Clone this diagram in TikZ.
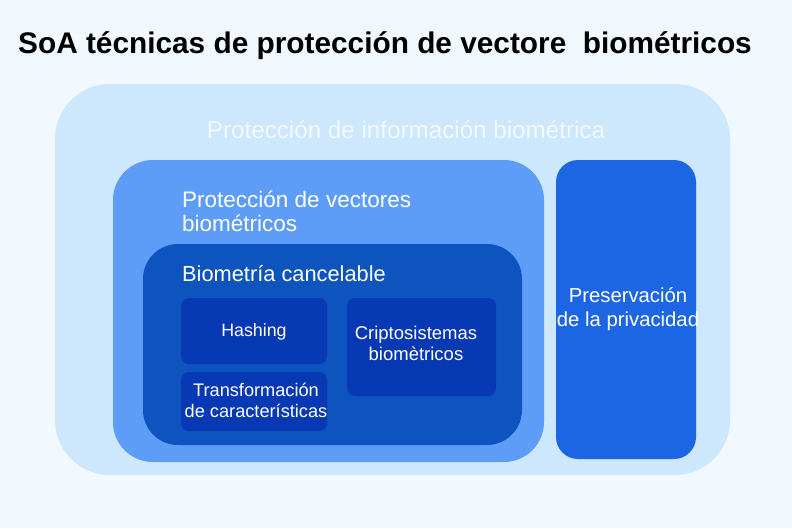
\documentclass[tikz,border=0pt]{standalone}
\usepackage{fontspec}
\setmainfont{Liberation Sans}
\definecolor{bgc}{HTML}{F1F8FE}
\definecolor{outerc}{HTML}{CDE7FC}
\definecolor{midc}{HTML}{5E9DF7}
\definecolor{innerc}{HTML}{0D54BE}
\definecolor{smallc}{HTML}{0639B3}
\definecolor{privc}{HTML}{1C66E3}
\definecolor{palec}{HTML}{F3F9FF}
\begin{document}
\begin{tikzpicture}[x=1pt,y=-1pt,
  box/.style={draw=none,inner sep=0pt,outer sep=0pt,anchor=north west},
  lbl/.style 2 args={text=white,inner sep=0pt,font=\fontsize{#1}{#2}\selectfont}]
\fill[bgc] (0,0) rectangle (792,528);
\useasboundingbox (0,0) rectangle (792,528);
\node[anchor=base west,inner sep=0pt,font=\fontsize{29.8}{30}\selectfont\bfseries] (title) at (18,53) {SoA técnicas de protección de vectore\ \ biométricos};
\node[box,fill=outerc,rounded corners=55pt,minimum width=675pt,minimum height=391pt] (outer) at (55,84) {};
\node[lbl={24.2}{26},text=palec] (outerl) at (406,130) {Protección de información biométrica};
\node[box,fill=midc,rounded corners=40pt,minimum width=431pt,minimum height=302pt] (mid) at (113,160) {};
\node[lbl={22.5}{24},anchor=west,align=left] (midl) at (182,211) {Protección de vectores\\biométricos};
\node[box,fill=innerc,rounded corners=35pt,minimum width=379pt,minimum height=201pt] (inner) at (143,244) {};
\node[lbl={21.8}{24},anchor=west] (innerl) at (182,274) {Biometría cancelable};
\node[box,fill=smallc,rounded corners=8pt,minimum width=146pt,minimum height=66pt] (hash) at (181,298) {};
\node[lbl={17.8}{21}] (hashl) at (254,332) {Hashing};
\node[box,fill=smallc,rounded corners=8pt,minimum width=146pt,minimum height=59pt] (trans) at (181,372) {};
\node[lbl={18.2}{21.5},align=center] (transl) at (256,400.5) {Transformación\\de características};
\node[box,fill=smallc,rounded corners=8pt,minimum width=149pt,minimum height=98pt] (cripto) at (347,298) {};
\node[lbl={18.5}{21.5},align=center] (criptol) at (416,343.5) {Criptosistemas\\biomètricos};
\node[box,fill=privc,rounded corners=22pt,minimum width=140pt,minimum height=299pt] (priv) at (556,160) {};
\node[lbl={20.3}{23.5},align=center] (privl) at (628,309) {Preservación\\de la privacidad};
\end{tikzpicture}
\end{document}
